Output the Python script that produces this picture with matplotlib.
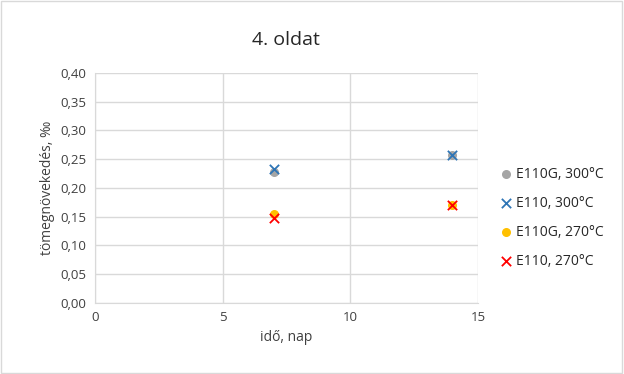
import matplotlib
matplotlib.use("Agg")
import matplotlib.pyplot as plt
from matplotlib.ticker import FuncFormatter, MultipleLocator

days = [7, 14]
e110g_300 = [0.228, 0.258]
e110_300 = [0.233, 0.258]
e110g_270 = [0.154, 0.171]
e110_270 = [0.147, 0.171]

plt.rcParams['font.family'] = ['Open Sans', 'DejaVu Sans']

fig = plt.figure(figsize=(6.24, 3.74), dpi=100)
ax = fig.add_axes([0.152, 0.19, 0.614, 0.615])

ax.scatter(days, e110g_300, s=30, color='#a5a5a5', marker='o', label='E110G, 300°C', zorder=3)
ax.scatter(days, e110_300, s=45, color='#2e75b6', marker='x', linewidths=1.3, label='E110, 300°C', zorder=4)
ax.scatter(days, e110g_270, s=30, color='#ffc000', marker='o', label='E110G, 270°C', zorder=3)
ax.scatter(days, e110_270, s=45, color='#ff0000', marker='x', linewidths=1.3, label='E110, 270°C', zorder=4)

ax.set_xlim(0, 15)
ax.set_ylim(0, 0.40)
ax.xaxis.set_major_locator(MultipleLocator(5))
ax.yaxis.set_major_locator(MultipleLocator(0.05))
ax.yaxis.set_major_formatter(FuncFormatter(lambda v, p: f"{v:.2f}".replace('.', ',')))
ax.grid(True, color='#d9d9d9', linewidth=1)
ax.set_axisbelow(True)
for s in ['top', 'right']:
    ax.spines[s].set_visible(False)
for s in ['left', 'bottom']:
    ax.spines[s].set_color('#d9d9d9')
ax.tick_params(length=0, labelsize=9.5, colors='#404040', pad=6)
ax.set_xlabel('idő, nap', fontsize=10, color='#404040')
ax.set_ylabel('tömegnövekedés, ‰', fontsize=10, color='#404040')
ax.set_title('4. oldat', fontsize=14, color='#262626', pad=20)

leg = ax.legend(loc='center left', bbox_to_anchor=(1.02, 0.37), frameon=False,
                fontsize=10, handletextpad=0.1, labelspacing=1.0, handlelength=1.2)
for t in leg.get_texts():
    t.set_color('#262626')

fig.patches.append(matplotlib.patches.Rectangle((0.002, 0.003), 0.995, 0.994, transform=fig.transFigure,
                                                fill=False, edgecolor='#d9d9d9', linewidth=1))
fig.savefig('out.png', dpi=100)
